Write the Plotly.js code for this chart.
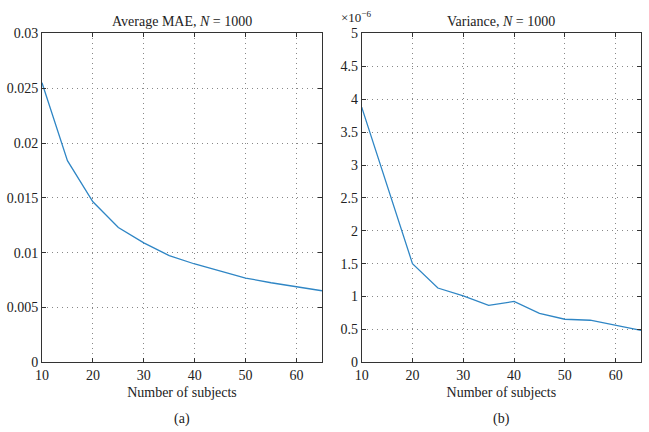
<!DOCTYPE html>
<html>
<head>
<meta charset="utf-8">
<script src="https://cdn.plot.ly/plotly-3.0.1.min.js"></script>
<style>html,body{margin:0;padding:0;background:#fff;}#chart{width:649px;height:432px;}</style>
</head>
<body>
<div id="chart"></div>
<script>
// Data
var subjects = [10, 15, 20, 25, 30, 35, 40, 45, 50, 55, 60, 65];
var averageMAE = [0.0255, 0.0184, 0.01465, 0.0123, 0.0109, 0.00973, 0.00897, 0.0083, 0.00769, 0.00726, 0.0069, 0.00653];
// Variance in units of 1e-6
var varianceE6 = [3.88, 2.68, 1.5, 1.13, 1.01, 0.865, 0.925, 0.745, 0.655, 0.64, 0.56, 0.485];
var xTicks = [10, 20, 30, 40, 50, 60];
var maeTicks = [0, 0.005, 0.01, 0.015, 0.02, 0.025, 0.03];
var maeTickLabels = ['0', '0.005', '0.01', '0.015', '0.02', '0.025', '0.03'];
var varTicks = [0, 0.5, 1, 1.5, 2, 2.5, 3, 3.5, 4, 4.5, 5];
var varTickLabels = ['0', '0.5', '1', '1.5', '2', '2.5', '3', '3.5', '4', '4.5', '5'];

var font = {family: 'Liberation Serif, Times New Roman, serif', size: 13, color: '#222'};
var tickFont = {family: 'Liberation Serif, Times New Roman, serif', size: 14, color: '#222'};
var lineColor = '#2f86c5';

var traces = [
  {x: subjects, y: averageMAE, type: 'scatter', mode: 'lines', xaxis: 'x', yaxis: 'y',
   line: {color: lineColor, width: 1.3}, hoverinfo: 'skip'},
  {x: subjects, y: varianceE6, type: 'scatter', mode: 'lines', xaxis: 'x2', yaxis: 'y2',
   line: {color: lineColor, width: 1.3}, hoverinfo: 'skip'}
];

function xAxis(domain, anchor) {
  return {domain: domain, anchor: anchor, range: [10, 65], tickvals: xTicks,
    ticks: 'inside', ticklen: 4, tickcolor: '#333', mirror: 'allticks', showline: true,
    linecolor: '#333', linewidth: 1, showgrid: true, gridcolor: '#888', griddash: '1px,4px',
    gridwidth: 1, zeroline: false, tickfont: tickFont,
    title: {text: 'Number of subjects', font: tickFont, standoff: 5}};
}
function yAxis(anchor, range, vals, labels) {
  return {domain: [0.1613, 0.9225], anchor: anchor, range: range, tickvals: vals, ticktext: labels,
    ticks: 'inside', ticklen: 4, tickcolor: '#333', mirror: 'allticks', showline: true,
    linecolor: '#333', linewidth: 1, showgrid: true, gridcolor: '#888', griddash: '1px,4px',
    gridwidth: 1, zeroline: false, tickfont: tickFont};
}

var layout = {
  width: 649, height: 432,
  margin: {l: 0, r: 0, t: 0, b: 0},
  paper_bgcolor: '#fff', plot_bgcolor: '#fff',
  showlegend: false,
  font: font,
  xaxis: xAxis([0.0647, 0.4961], 'y'),
  yaxis: yAxis('x', [0, 0.03], maeTicks, maeTickLabels),
  xaxis2: xAxis([0.5573, 0.9877], 'y2'),
  yaxis2: yAxis('x2', [0, 5], varTicks, varTickLabels),
  annotations: [
    {text: 'Average MAE, <i>N</i> = 1000', xref: 'paper', yref: 'paper', x: 0.2804, y: 0.9225,
     yshift: 2, xanchor: 'center', yanchor: 'bottom', showarrow: false, font: tickFont},
    {text: 'Variance, <i>N</i> = 1000', xref: 'paper', yref: 'paper', x: 0.7725, y: 0.9225,
     yshift: 2, xanchor: 'center', yanchor: 'bottom', showarrow: false, font: tickFont},
    {text: '×10<sup>−6</sup>', xref: 'paper', yref: 'paper', x: 0.522, y: 0.937,
     xanchor: 'left', yanchor: 'bottom', showarrow: false, font: font},
    {text: '(a)', xref: 'paper', yref: 'paper', x: 0.2804, y: 0.03,
     xanchor: 'center', yanchor: 'middle', showarrow: false, font: tickFont},
    {text: '(b)', xref: 'paper', yref: 'paper', x: 0.7725, y: 0.03,
     xanchor: 'center', yanchor: 'middle', showarrow: false, font: tickFont}
  ]
};

Plotly.newPlot('chart', traces, layout, {staticPlot: true, displayModeBar: false});
</script>
</body>
</html>
